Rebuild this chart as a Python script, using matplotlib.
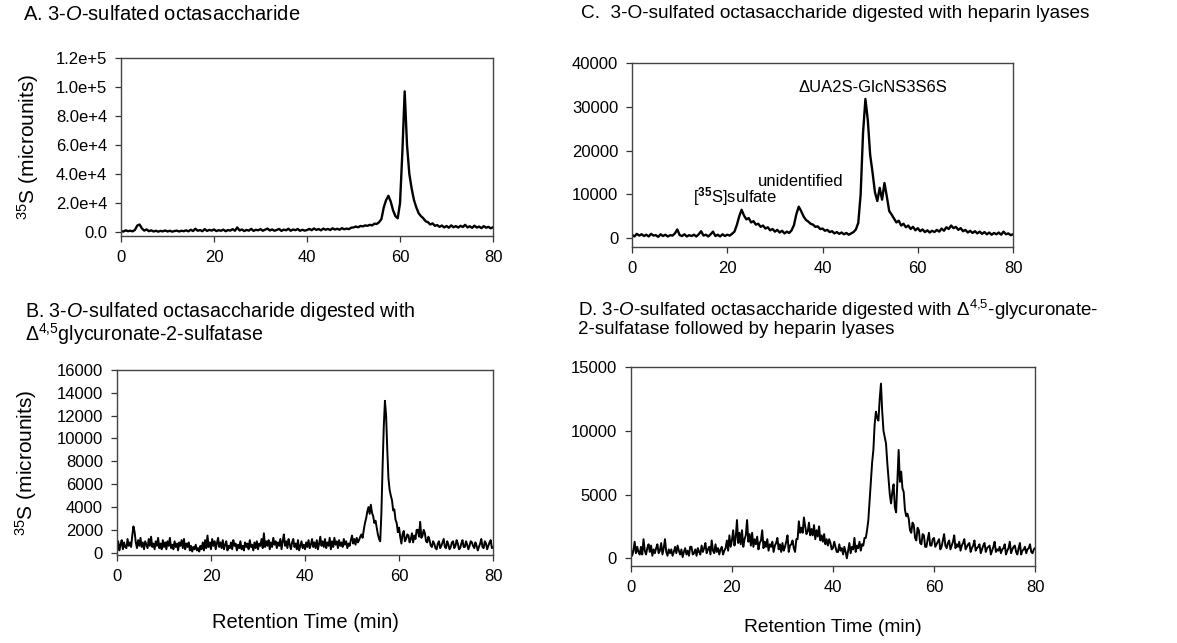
import numpy as np
import matplotlib
matplotlib.use("Agg")
import matplotlib.pyplot as plt

plt.rcParams['font.family'] = ['Liberation Sans', 'DejaVu Sans']
plt.rcParams['mathtext.fontset'] = 'custom'
plt.rcParams['mathtext.rm'] = 'Liberation Sans'
plt.rcParams['mathtext.it'] = 'Liberation Sans:italic'
plt.rcParams['mathtext.bf'] = 'Liberation Sans:bold'

# retention time grids: A and C read every 0.5 min, B and D every 0.25 min
time_half = np.linspace(0, 80, 161)
time_quarter = np.linspace(0, 80, 321)

# A. 3-O-sulfated octasaccharide
signal_a = [800, 300, 1200, 600, 900, 500, 1500, 4500, 5200, 2500,
            1000, 1800, 600, 1200, 400, 900, 300, 800, 500, 1100,
            400, 900, 300, 700, 1000, 400, 900, 600, 1200, 500,
            1600, 700, 2300, 900, 1400, 600, 2000, 800, 1500, 1000,
            1800, 700, 1300, 900, 1700, 600, 1400, 1000, 2000, 900,
            3200, 1100, 1800, 700, 1500, 1000, 2200, 800, 1600, 1200,
            2000, 900, 1700, 2400, 1100, 1800, 900, 1500, 2100, 800,
            1700, 1200, 2300, 900, 1800, 1300, 2100, 900, 1600, 1000,
            1400, 2200, 1300, 2500, 1500, 2100, 1200, 2400, 1600, 2200,
            1400, 2600, 1700, 2300, 1600, 2700, 1900, 2400, 2000, 3000,
            3200, 3800, 3300, 4200, 3900, 4600, 4300, 5000, 4600, 5800,
            5600, 6800, 9000, 17000, 22000, 25000, 21000, 15000, 11000, 9500,
            20000, 55000, 97000, 60000, 40000, 30000, 22000, 17000, 13000, 11000,
            9500, 7500, 6800, 5200, 6000, 4300, 4800, 3600, 4500, 3200,
            4200, 3000, 4600, 3300, 4100, 3100, 4300, 3500, 5000, 3200,
            4000, 2900, 4400, 3100, 3800, 2700, 4100, 3000, 3600, 2600,
            3300]

# B. digested with delta-4,5-glycuronate-2-sulfatase (one row = 2 min)
signal_b = [300, 1000, 200, 700, 1100, 300, 900, 500,
            400, 1200, 600, 900, 500, 1500, 2300, 1800,
            900, 400, 1100, 600, 1300, 500, 900, 300,
            1000, 700, 400, 1200, 600, 1400, 500, 800,
            300, 1000, 600, 1300, 400, 800, 300, 1100,
            500, 900, 300, 1000, 600, 1300, 400, 700,
            300, 1000, 500, 800, 200, 900, 600, 1100,
            400, 1200, 300, 800, 500, 900, 200, 600,
            100, 500, 300, 700, 200, 400, 100, 600,
            300, 900, 200, 1100, 400, 1500, 500, 900,
            300, 1200, 600, 1000, 300, 800, 1300, 500,
            900, 400, 1100, 300, 700, 1000, 200, 600,
            400, 900, 300, 1100, 600, 800, 200, 700,
            400, 1000, 300, 600, 200, 900, 500, 800,
            300, 1100, 500, 700, 200, 900, 400, 1000,
            300, 800, 600, 1200, 400, 1700, 500, 1000,
            600, 1100, 300, 900, 500, 1300, 700, 1000,
            400, 900, 600, 1200, 300, 1000, 1600, 600,
            1000, 400, 1200, 700, 300, 900, 1200, 500,
            800, 300, 1100, 200, 600, 1000, 400, 700,
            300, 900, 500, 1100, 400, 700, 1200, 500,
            900, 400, 1100, 300, 800, 1400, 600, 1000,
            500, 1200, 400, 900, 600, 1300, 300, 1000,
            500, 1300, 700, 1000, 400, 1100, 600, 900,
            500, 1200, 700, 1000, 400, 800, 600, 1100,
            1500, 800, 1200, 700, 1300, 900, 1100, 1400,
            1600, 1300, 2000, 2600, 3000, 3600, 4000, 3400,
            4200, 3500, 3200, 2600, 2800, 2200, 1600, 1200,
            1000, 3500, 7500, 11000, 13300, 12000, 9000, 6500,
            5500, 5000, 4600, 3700, 3800, 2900, 2600, 1800,
            2200, 1400, 800, 1600, 1900, 1000, 1200, 1600,
            1500, 900, 1200, 1700, 900, 1500, 1200, 2000,
            2000, 1400, 2700, 1300, 1500, 2000, 1700, 1000,
            900, 1400, 1100, 600, 500, 1000, 800, 400,
            300, 800, 1000, 400, 600, 900, 1200, 500,
            400, 1000, 700, 300, 500, 900, 1000, 400,
            600, 1100, 800, 300, 400, 800, 1100, 500,
            500, 1000, 700, 300, 600, 1000, 900, 600,
            400, 900, 600, 200, 500, 800, 1200, 500,
            400, 1000, 800, 300, 600, 900, 1100, 400,
            500]

# C. digested with heparin lyases
signal_c = [800, 400, 1000, 600, 900, 500, 800, 400, 1000, 600,
            700, 300, 900, 500, 800, 400, 700, 600, 1100, 2000,
            700, 500, 900, 400, 700, 500, 800, 400, 900, 1600,
            600, 800, 400, 900, 1500, 500, 800, 400, 900, 500,
            800, 600, 1000, 1500, 3000, 5000, 6500, 5200, 4300, 4600,
            3600, 3900, 3100, 3300, 2600, 2900, 2200, 2500, 1800, 2100,
            1500, 1900, 1300, 1700, 1100, 1500, 1200, 1800, 3000, 5500,
            7200, 6200, 5000, 4200, 3800, 3300, 3100, 2600, 2700, 2100,
            2200, 1700, 1900, 1400, 1600, 1100, 1400, 1000, 1300, 900,
            1200, 800, 1100, 1400, 2000, 3500, 10000, 24000, 31800, 27000,
            19000, 15000, 10500, 8500, 11500, 8800, 12600, 9500, 6200, 5400,
            4500, 3600, 4000, 2900, 3300, 2500, 2900, 2100, 2600, 1800,
            2300, 1600, 2000, 1400, 1800, 1300, 1700, 1400, 1900, 1500,
            2200, 1700, 2500, 2100, 2900, 2300, 2600, 1900, 2300, 1600,
            1900, 1300, 1700, 1200, 1600, 1100, 1500, 1000, 1400, 900,
            1300, 800, 1200, 900, 1300, 800, 1500, 900, 1100, 700,
            900]

# D. sulfatase followed by heparin lyases (one row = 2 min)
signal_d = [800, 200, 600, 1300, 400, 900, 500, 300,
            900, 300, 1500, 600, 300, 800, 1100, 500,
            1000, 200, 700, 400, 800, 1100, 400, 600,
            1200, 300, 800, 1500, 500, 200, 700, 400,
            700, 200, 500, 900, 400, 1000, 600, 300,
            700, 100, 500, 800, 300, 600, 200, 900,
            900, 300, 400, 700, 200, 800, 500, 300,
            1000, 500, 800, 1200, 400, 700, 900, 300,
            1400, 600, 400, 1100, 500, 800, 300, 700,
            900, 300, 600, 800, 1400, 600, 1800, 900,
            1400, 2200, 1000, 1600, 3000, 1200, 2000, 1100,
            2200, 900, 1500, 1800, 3000, 1300, 1900, 1000,
            2000, 900, 1500, 1100, 1700, 700, 1200, 1400,
            2200, 800, 1300, 900, 1500, 600, 1100, 900,
            1300, 500, 1000, 1200, 1600, 700, 1100, 500,
            1200, 600, 900, 1300, 1800, 500, 1000, 1100,
            1400, 800, 500, 1500, 1500, 2900, 2000, 2400,
            2000, 3200, 2500, 1900, 2100, 2800, 1800, 2300,
            1800, 2600, 1500, 2200, 1700, 2500, 1400, 1800,
            1300, 1900, 1100, 1500, 1000, 1500, 1200, 700,
            800, 1300, 900, 500, 500, 1100, 600, 800,
            300, 900, 500, 0, 600, 1200, 400, 900,
            700, 1600, 500, 1000, 800, 1300, 600, 1100,
            1000, 1600, 1600, 2200, 3000, 4500, 6000, 7500,
            8500, 10500, 11500, 11000, 10800, 12500, 13700, 11500,
            10000, 9500, 9000, 7500, 6200, 5000, 4300, 5200,
            5800, 4000, 3600, 6000, 8500, 6000, 6800, 5500,
            5200, 3800, 3300, 3500, 3100, 2200, 2000, 2800,
            2600, 1600, 1400, 2400, 2200, 1200, 1100, 1900,
            1800, 900, 900, 1500, 2000, 1000, 1000, 1500,
            1600, 900, 1100, 1300, 1500, 700, 900, 1400,
            1900, 1000, 800, 1200, 1400, 700, 1000, 1300,
            1800, 800, 1100, 900, 1300, 600, 1000, 1200,
            1500, 700, 900, 1100, 1200, 500, 800, 1000,
            1400, 600, 800, 900, 1100, 400, 700, 1000,
            1200, 500, 800, 900, 1000, 300, 600, 900,
            1300, 500, 700, 600, 900, 400, 700, 800,
            1100, 300, 600, 800, 1300, 400, 700, 900,
            1000, 500, 300, 800, 1200, 300, 600, 700,
            900, 400, 700, 800, 1100, 500, 400, 700,
            800]

x_ticks = [0, 20, 40, 60, 80]
yticks_a = [0, 20000, 40000, 60000, 80000, 100000, 120000]
ylabels_a = ['0.0', '2.0e+4', '4.0e+4', '6.0e+4', '8.0e+4', '1.0e+5', '1.2e+5']
yticks_b = [0, 2000, 4000, 6000, 8000, 10000, 12000, 14000, 16000]
yticks_c = [0, 10000, 20000, 30000, 40000]
yticks_d = [0, 5000, 10000, 15000]

W, H = 1177, 643
fig = plt.figure(figsize=(W / 100, H / 100), dpi=100)

# axes rectangles (figure fractions)
ax_a = fig.add_axes([0.1028, 0.633, 0.3161, 0.2768])
ax_b = fig.add_axes([0.0994, 0.1369, 0.3195, 0.2877])
ax_c = fig.add_axes([0.537, 0.6159, 0.3237, 0.2861])
ax_d = fig.add_axes([0.536, 0.1198, 0.3434, 0.3094])

panels = [(ax_a, time_half, signal_a, yticks_a, (-2700, 120000), 1.7),
          (ax_b, time_quarter, signal_b, yticks_b, (-200, 16000), 1.4),
          (ax_c, time_half, signal_c, yticks_c, (-2000, 40000), 1.7),
          (ax_d, time_quarter, signal_d, yticks_d, (-600, 15000), 1.4)]

for ax, t, sig, yt, ylim, lw in panels:
    ax.plot(t, sig, color='black', lw=lw)
    ax.set_xlim(0, 80)
    ax.set_ylim(*ylim)
    ax.set_xticks(x_ticks)
    ax.set_yticks(yt)
    ax.tick_params(direction='out', length=4, width=0.9, labelsize=12,
                   color='#333333', pad=6)
    for sp in ax.spines.values():
        sp.set_color('#444444')
        sp.set_linewidth(1.0)

ax_a.set_yticklabels(ylabels_a)

# axis labels
ylab = '$^{35}$S (microunits)'
fig.text(28 / W, 1 - 147 / H, ylab, fontsize=15, rotation=90, ha='center', va='center')
fig.text(26 / W, 1 - 463 / H, ylab, fontsize=15, rotation=90, ha='center', va='center')
fig.text(305 / W, 1 - 622 / H, 'Retention Time (min)', fontsize=14.5, ha='center', va='center')
fig.text(833 / W, 1 - 627 / H, 'Retention Time (min)', fontsize=13.8, ha='center', va='center')

# panel titles
fig.text(23 / W, 1 - 14 / H, 'A. 3-$\\it{O}$-sulfated octasaccharide', fontsize=14.5, va='center')
fig.text(581 / W, 1 - 14 / H, 'C.  3-O-sulfated octasaccharide digested with heparin lyases',
         fontsize=13.7, va='center')
fig.text(25 / W, 1 - 300 / H,
         'B. 3-$\\it{O}$-sulfated octasaccharide digested with\n'
         '\u0394$^{4{,}5}$glycuronate-2-sulfatase',
         fontsize=14.1, va='top', linespacing=0.92)
fig.text(578 / W, 1 - 298 / H,
         'D. 3-$\\it{O}$-sulfated octasaccharide digested with \u0394$^{4{,}5}$-glycuronate-\n'
         '2-sulfatase followed by heparin lyases',
         fontsize=13.5, va='top', linespacing=0.95)

# peak labels in panel C
ax_c.text(35.0, 34300, '\u0394UA2S-GlcNS3S6S', fontsize=12, va='center', ha='left')
ax_c.text(26.5, 13000, 'unidentified', fontsize=12, va='center', ha='left')
ax_c.text(12.8, 9600, '[$^{\\mathbf{35}}$S]sulfate', fontsize=12, va='center', ha='left')

fig.savefig('out.png', dpi=100)
